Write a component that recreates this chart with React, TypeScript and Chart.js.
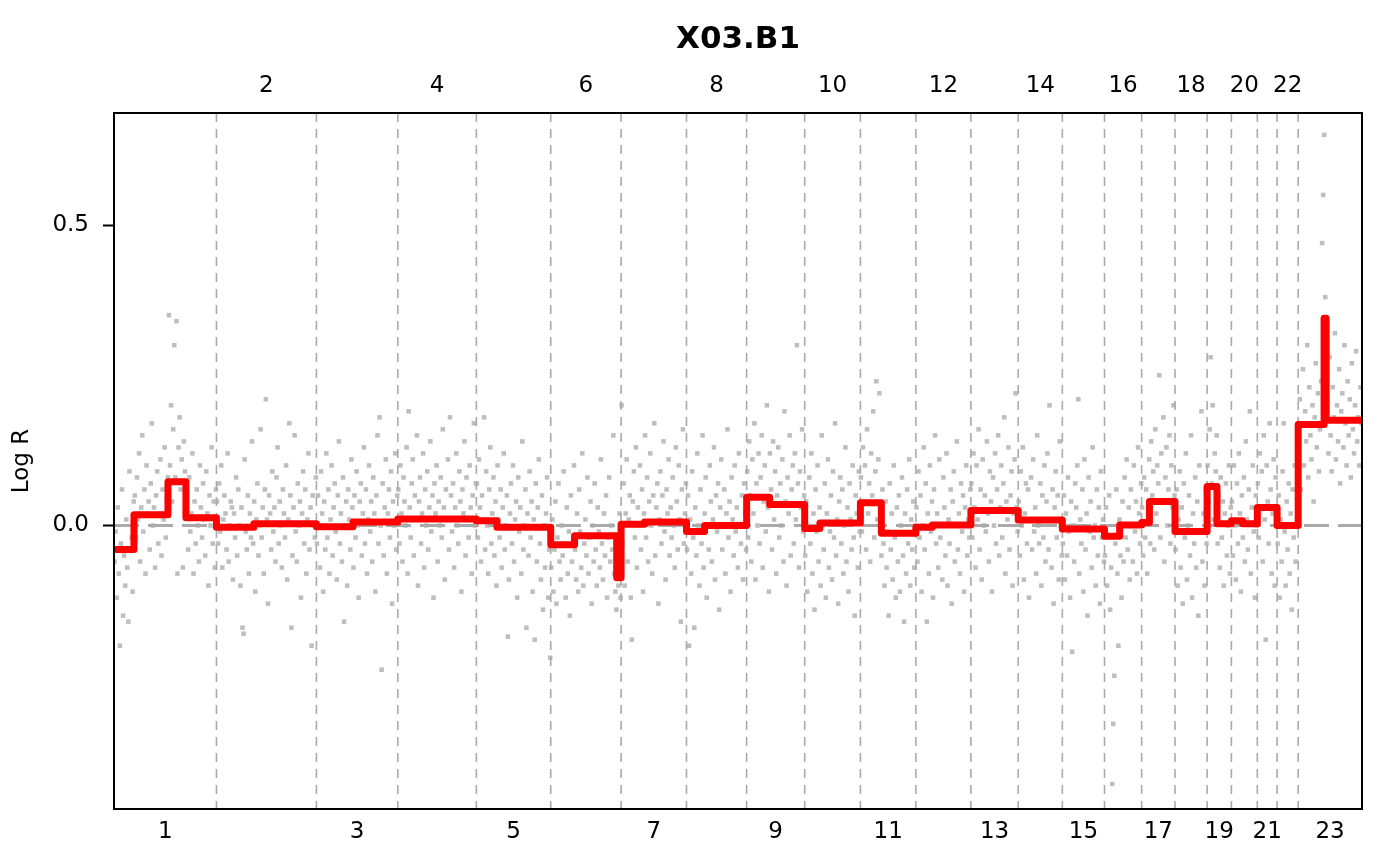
import { useEffect, useRef } from "react"
import { Chart, registerables } from "chart.js"

Chart.register(...registerables)

const FONT = '"DejaVu Sans", sans-serif'

// chromosome lengths (hg19, Mb), 23 = X
const chromLabels = ["1", "2", "3", "4", "5", "6", "7", "8", "9", "10", "11", "12", "13", "14", "15", "16", "17", "18", "19", "20", "21", "22", "23"]
const chromLengths = [249.25, 243.2, 198.02, 191.15, 180.92, 171.12, 159.14, 146.36, 141.21, 135.53, 135.01, 133.85, 115.17, 107.35, 102.53, 90.35, 81.2, 78.08, 59.13, 63.03, 48.13, 51.3, 155.27]

const yTicks = [0, 0.5]
const yMin = -0.4717
const yMax = 0.6864

// segmentation (positions in Mb within the chromosome)
const segChrom = [1, 1, 1, 1, 2, 2, 3, 3, 4, 5, 5, 6, 6, 6, 7, 7, 8, 8, 9, 9, 10, 10, 11, 11, 12, 12, 13, 14, 15, 16, 16, 17, 17, 18, 19, 19, 20, 20, 21, 22, 23, 23, 23]
const segStart = [0, 48.6, 131.3, 175, 0, 91, 0, 89, 0, 0, 50, 0, 58, 160.5, 0, 57, 0, 44, 0, 56, 0, 37, 0, 51, 0, 40, 0, 0, 0, 0, 37, 0, 19, 0, 0, 24, 0, 27, 0, 0, 0, 63, 68]
const segEnd = [48.6, 131.3, 175, 249.25, 91, 243.2, 89, 198.02, 191.15, 50, 180.92, 58, 160.5, 171.12, 57, 159.14, 44, 146.36, 56, 141.21, 37, 135.53, 51, 135.01, 40, 133.85, 115.17, 107.35, 102.53, 37, 90.35, 19, 81.2, 78.08, 24, 59.13, 27, 63.03, 48.13, 51.3, 63, 68, 155.27]
const segMean = [-0.04, 0.018, 0.073, 0.013, -0.003, 0.003, -0.002, 0.006, 0.011, 0.008, -0.003, -0.032, -0.017, -0.087, 0.002, 0.006, -0.01, 0.0, 0.047, 0.035, -0.005, 0.004, 0.038, -0.013, -0.003, 0.001, 0.025, 0.009, -0.006, -0.018, 0.001, 0.005, 0.04, -0.01, 0.065, 0.003, 0.008, 0.003, 0.03, 0.0, 0.168, 0.345, 0.175]

// probe log R values, in order along each chromosome
const logR1 = [-0.06, -0.01, -0.12, 0.03, -0.08, -0.2, -0.03, 0.06, -0.15, -0.05, -0.1, 0.01, -0.07, -0.16, 0.09, -0.04, -0.02, -0.11, 0.04,
  0.05, -0.02, 0.08, 0.01, 0.12, -0.06, 0.03, 0.15, -0.01, 0.06, -0.08, 0.1, 0.02, 0.04, -0.04, 0.07, 0.17, 0.0, 0.03, -0.07, 0.05, 0.09, -0.03, 0.02, 0.11, -0.05, 0.06, 0.01, 0.13, -0.02, 0.04, 0.08,
  0.35, 0.1, 0.2, 0.04, 0.16, 0.3, 0.08, 0.34, -0.08, 0.13, 0.18, 0.06, 0.11, -0.07, 0.14, 0.09, 0.05,
  0.05, -0.04, 0.08, -0.01, 0.02, 0.12, -0.08, 0.04, -0.03, 0.06, 0.0, -0.06, 0.1, 0.03, -0.02, 0.07, 0.01, -0.05, 0.09, 0.02, -0.1, 0.05, 0.0, 0.13, -0.03, 0.04, -0.07, 0.06]
const logR2 = [0.04, -0.03, 0.07, -0.01, 0.1, -0.07, 0.01, 0.05, 0.02, -0.04, 0.12, -0.06, 0.0, 0.04, 0.03, -0.09, 0.02, -0.02, 0.08, -0.05, 0.06, 0.0, -0.1, 0.03, -0.17, -0.18, 0.11, -0.01, -0.04, 0.05,
  -0.08, 0.02, -0.02, 0.14, -0.03, 0.04, -0.11, 0.01, 0.07, -0.05, 0.0, 0.16, -0.02, 0.03, -0.08, 0.06, 0.21, 0.01, -0.13, 0.05, 0.02, -0.04, 0.09, -0.01, 0.03, -0.06, 0.08, 0.13, -0.03, 0.04,
  0.0, -0.07, 0.06, 0.02, -0.02, 0.1, -0.09, 0.01, 0.17, 0.05, -0.17, -0.05, 0.03, 0.15, -0.01, -0.06, 0.07, 0.0, 0.04, -0.12, 0.02, 0.09, -0.03, 0.06, -0.08, 0.01, 0.12, -0.04, 0.03, -0.2, 0.05, 0.0, -0.02, 0.08]
const logR3 = [-0.03, 0.05, 0.0, -0.07, 0.09, 0.02, -0.11, 0.04, -0.04, 0.12, -0.02, 0.06, -0.08, 0.01, 0.1, -0.05, 0.03, 0.07, -0.01, -0.09, 0.05, 0.14, -0.03, 0.02, -0.06, 0.08, -0.16, 0.0, 0.04, -0.1,
  0.06, 0.01, -0.04, 0.11, 0.03, -0.07, 0.05, -0.02, 0.09, 0.0, -0.12, 0.04, 0.07, -0.05, 0.02, 0.13, -0.03, 0.06, -0.08, 0.01, 0.1, -0.01, 0.04, -0.06, 0.08, 0.02, -0.11, 0.05, 0.15, -0.03,
  0.18, 0.0, -0.24, 0.07, -0.05, 0.03, 0.11, -0.08, 0.02, 0.06, -0.02, 0.09, -0.13, 0.04, 0.0, 0.12, -0.04, 0.05]
const logR4 = [0.06, -0.03, 0.1, 0.02, -0.06, 0.08, 0.04, 0.0, 0.13, -0.08, 0.19, 0.03, -0.02, 0.07, 0.11, -0.05, 0.05, 0.01, 0.15, -0.1, 0.04, 0.08, -0.03, 0.02, 0.12, -0.07, 0.06, 0.0, 0.09, -0.04,
  0.03, 0.14, -0.01, 0.05, -0.12, 0.07, 0.02, 0.1, -0.06, 0.04, 0.0, 0.08, -0.02, 0.16, 0.03, -0.09, 0.06, 0.01, 0.11, -0.04, 0.18, 0.05, -0.01, 0.07, -0.07, 0.03, 0.12, 0.0, -0.03, 0.09,
  0.04, -0.11, 0.06, 0.02, 0.14, -0.05, 0.08, 0.01, -0.02, 0.1, 0.03, -0.08, 0.05, 0.17, 0.0, 0.07]
const logR5 = [0.07, -0.02, 0.11, 0.03, -0.06, 0.05, 0.01, 0.18, -0.04, 0.09, 0.0, -0.08, 0.06, 0.13, -0.03, 0.02, 0.08, -0.05, 0.04, -0.1, 0.1, 0.01, -0.02, 0.06, -0.07, 0.03, 0.12, -0.04, 0.0, 0.05,
  -0.185, -0.09, 0.02, 0.07, -0.03, 0.1, -0.06, 0.01, 0.04, -0.12, 0.08, -0.01, 0.03, -0.08, 0.14, -0.04, 0.0, 0.06, -0.17, 0.02, -0.05, 0.09, -0.02, 0.04, -0.11, 0.01, -0.19, 0.07, -0.06, 0.03,
  0.11, -0.03, -0.09, 0.05, -0.14, 0.0, -0.07, 0.02, 0.08, -0.12, -0.04, -0.22]
const logR6 = [-0.07, 0.01, -0.11, -0.04, 0.04, -0.13, -0.02, 0.07, -0.06, -0.09, 0.0, -0.05, 0.09, -0.03, -0.12, 0.03, -0.08, -0.01, -0.15, 0.05, -0.06, -0.02, 0.1, -0.04, -0.09, 0.02, -0.11, 0.06, -0.01, -0.07,
  0.12, -0.1, -0.03, 0.01, -0.05, 0.08, -0.08, -0.02, 0.04, -0.13, 0.0, -0.06, 0.07, -0.04, -0.1, 0.03, -0.01, -0.07, 0.11, -0.03, -0.09, 0.02, -0.05, 0.05, -0.12, -0.02, 0.08, -0.06, 0.0, -0.04,
  0.15, -0.08, -0.11, -0.14, -0.06, -0.1, 0.02, -0.12]
const logR7 = [0.2, -0.03, 0.07, -0.1, 0.02, 0.11, -0.06, 0.01, 0.05, -0.12, -0.19, 0.04, 0.09, -0.02, 0.13, -0.07, 0.03, 0.0, 0.1, -0.04, 0.06, -0.11, 0.02, 0.15, -0.02, 0.08, -0.06, 0.04, 0.12, 0.0,
  -0.08, 0.05, 0.17, -0.05, 0.03, 0.07, -0.13, 0.01, 0.09, -0.03, 0.05, 0.14, -0.01, -0.09, 0.06, 0.02, 0.11, -0.05, 0.03, -0.02, 0.08, 0.0, -0.07, 0.13, 0.04, -0.04, 0.1, 0.01, -0.16, 0.06,
  0.16, -0.03, 0.02, 0.07]
const logR8 = [-0.04, 0.05, -0.2, 0.01, -0.08, 0.09, -0.02, -0.17, 0.03, -0.05, 0.12, 0.0, -0.1, 0.06, -0.03, 0.15, -0.07, 0.02, 0.08, -0.12, 0.0, -0.04, 0.1, 0.04, -0.06, 0.01, 0.13, -0.09, 0.05, -0.01,
  0.07, -0.14, 0.03, 0.11, -0.04, 0.0, 0.06, -0.08, 0.02, 0.16, -0.02, 0.04, -0.11, 0.08, 0.01, -0.05, 0.1, -0.01, 0.03, -0.07, 0.12, 0.0, -0.03, 0.05, -0.09, 0.07, 0.02, -0.04]
const logR9 = [0.09, -0.02, 0.14, 0.05, -0.06, 0.11, 0.02, 0.17, -0.09, 0.07, 0.0, 0.12, -0.03, 0.08, 0.15, -0.07, 0.04, 0.1, -0.01, 0.2, 0.03, -0.11, 0.12, 0.06, -0.04, 0.14, 0.01, 0.09, -0.08, 0.05,
  0.13, -0.02, 0.07, 0.0, 0.11, -0.06, 0.19, 0.04, -0.1, 0.08, 0.02, 0.15, -0.05, 0.06, 0.1, -0.03, 0.12, 0.01, 0.3, 0.07, -0.07, 0.09, 0.03, 0.16, -0.01, 0.05]
const logR10 = [-0.05, 0.04, -0.11, 0.0, 0.08, -0.03, 0.12, -0.08, 0.02, -0.14, 0.06, -0.01, 0.1, -0.06, 0.03, -0.1, 0.15, 0.0, -0.04, 0.07, -0.12, 0.02, 0.11, -0.07, -0.01, 0.05, -0.09, 0.09, -0.02, 0.17,
  -0.05, 0.01, -0.13, 0.04, 0.08, -0.03, 0.06, -0.08, 0.0, 0.13, -0.06, 0.03, -0.11, 0.07, 0.01, -0.04, 0.1, -0.02, -0.15, 0.05, 0.02, -0.07, 0.09, -0.01]
const logR11 = [0.08, -0.01, 0.13, 0.04, 0.1, -0.04, 0.16, 0.02, 0.07, -0.06, 0.12, 0.05, 0.19, -0.02, 0.09, 0.24, 0.01, 0.11, 0.22, 0.03, -0.05, 0.06, -0.03, -0.1, 0.04, -0.07, -0.01, -0.15, 0.07, -0.04,
  0.02, -0.09, 0.1, -0.02, -0.12, 0.03, -0.06, 0.05, -0.11, 0.0, 0.08, -0.05, -0.16, 0.02, -0.08, 0.06, -0.03, 0.11, -0.1, 0.01, -0.04, 0.04, -0.07, 0.0]
const logR12 = [0.03, -0.06, 0.09, -0.02, 0.05, -0.11, 0.0, 0.13, -0.04, 0.07, -0.16, 0.02, -0.08, 0.1, -0.01, 0.04, -0.12, 0.06, 0.15, -0.03, 0.02, -0.07, 0.11, -0.02, 0.0, -0.09, 0.08, 0.03, -0.05, 0.12,
  -0.1, 0.01, -0.03, 0.06, -0.13, 0.04, 0.09, -0.06, 0.0, 0.14, -0.04, 0.02, -0.08, 0.07, -0.01, 0.05, -0.11, 0.03, 0.1, -0.05, 0.01, -0.02, 0.06]
const logR13 = [0.07, -0.02, 0.12, 0.03, -0.07, 0.1, 0.01, 0.16, -0.04, 0.06, -0.09, 0.11, 0.0, 0.05, -0.01, 0.14, 0.02, -0.06, 0.09, 0.04, -0.11, 0.08, 0.0, 0.12, -0.03, 0.06, 0.15, -0.05, 0.03, 0.1,
  -0.02, 0.07, 0.18, -0.08, 0.04, 0.01, 0.13, -0.04, 0.05, 0.09, -0.1, 0.02, 0.11, 0.22, 0.03, -0.01]
const logR14 = [0.04, -0.05, 0.09, 0.0, 0.13, -0.09, 0.02, 0.07, -0.03, 0.06, -0.12, 0.01, 0.08, -0.04, 0.11, -0.01, 0.03, -0.08, 0.15, 0.0, -0.03, 0.07, -0.1, 0.05, -0.02, 0.1, -0.06, 0.04, 0.12, -0.04,
  0.2, 0.01, -0.07, 0.06, -0.13, 0.03, 0.09, -0.02, 0.05, -0.09, 0.14, 0.0, -0.05]
const logR15 = [-0.03, 0.05, -0.09, 0.02, -0.05, 0.08, -0.01, -0.12, 0.04, -0.21, 0.0, -0.06, 0.07, 0.03, 0.1, 0.21, -0.08, 0.01, -0.03, 0.06, -0.11, 0.11, -0.04, 0.02, -0.15, 0.08, -0.01, 0.04, -0.07, 0.13,
  -0.02, 0.0, -0.1, 0.06, -0.05, 0.03, -0.13, 0.09, -0.02, 0.01, -0.06]
const logR16 = [-0.05, 0.03, -0.1, -0.02, 0.05, -0.14, -0.07, -0.43, -0.33, -0.25, -0.03, 0.06, -0.08, -0.2, 0.01, -0.05, -0.12, 0.04, -0.06, 0.08, -0.02, 0.11, -0.04, 0.03, -0.09, 0.06, 0.0, -0.06, 0.1, -0.01,
  0.04, -0.08, 0.13, 0.02, -0.03, 0.07]
const logR17 = [0.03, -0.05, 0.08, -0.02, 0.06, -0.08, 0.01, 0.11, -0.03, 0.14, 0.05, 0.09, -0.04, 0.16, 0.02, 0.1, 0.07, 0.25, -0.02, 0.12, 0.04, 0.18, -0.06, 0.08, 0.13, 0.0, 0.06, 0.15, -0.03, 0.1,
  0.03, 0.2, 0.05]
const logR18 = [-0.04, 0.06, -0.1, 0.01, 0.09, -0.07, 0.03, -0.13, 0.07, -0.02, 0.12, -0.09, 0.0, 0.05, -0.05, 0.15, -0.12, 0.02, -0.03, 0.08, -0.07, 0.04, -0.15, 0.1, -0.01, 0.19, -0.06, 0.02, -0.1, 0.06,
  -0.03]
const logR19 = [0.1, 0.04, 0.16, 0.28, 0.07, 0.2, 0.01, 0.12, 0.09, 0.15, -0.03, 0.05, -0.07, 0.08, -0.02, 0.04, -0.1, 0.02, 0.07, -0.05, 0.0, 0.1, -0.08, 0.03]
const logR20 = [0.04, -0.05, 0.1, 0.0, -0.09, 0.07, -0.03, 0.12, 0.02, -0.11, 0.05, -0.02, 0.08, -0.06, 0.14, 0.01, -0.04, 0.06, 0.19, -0.08, 0.03, 0.1, -0.01, -0.12, 0.05, 0.0]
const logR21 = [0.07, -0.02, 0.12, 0.03, 0.09, -0.06, 0.15, 0.01, -0.19, 0.1, 0.04, -0.03, 0.17, 0.06, -0.08, 0.02, 0.11, -0.1, 0.08, 0.0]
const logR22 = [-0.03, 0.05, -0.12, 0.01, -0.06, 0.09, 0.17, -0.01, -0.1, 0.04, -0.04, 0.07, -0.08, 0.02, -0.14, 0.06, -0.02, 0.1, -0.06, 0.0, 0.03]
const logR23 = [0.12, 0.21, 0.06, 0.17, 0.26, 0.1, 0.19, 0.14, 0.3, 0.08, 0.23, 0.15, 0.11, 0.2, 0.04, 0.18, 0.27, 0.13, 0.22, 0.09, 0.16, 0.24, 0.47, 0.55, 0.65, 0.38, 0.33, 0.19, 0.12, 0.28,
  0.15, 0.09, 0.23, 0.18, 0.32, 0.11, 0.2, 0.14, 0.26, 0.07, 0.19, 0.22, 0.13, 0.3, 0.17, 0.1, 0.24, 0.15, 0.21, 0.08, 0.27, 0.16, 0.12, 0.2, 0.29, 0.14, 0.18, 0.1, 0.23, 0.17]

const probeValues = [logR1, logR2, logR3, logR4, logR5, logR6, logR7, logR8, logR9, logR10, logR11, logR12, logR13, logR14, logR15, logR16, logR17, logR18, logR19, logR20, logR21, logR22, logR23]

const chromStart: number[] = []
let acc = 0
for (const len of chromLengths) {
  chromStart.push(acc)
  acc += len
}
const genomeLength = acc
const chromCenter = chromLengths.map((len, i) => chromStart[i] + len / 2)

const frameAndGuides = {
  id: "frameAndGuides",
  afterDatasetDraw(chart: any, args: any) {
    if (args.index !== 1) return
    const { ctx, chartArea, scales } = chart
    ctx.save()
    ctx.beginPath()
    ctx.rect(chartArea.left, chartArea.top, chartArea.right - chartArea.left, chartArea.bottom - chartArea.top)
    ctx.clip()
    // chromosome boundaries
    ctx.strokeStyle = "#aaaaaa"
    ctx.lineWidth = 1.6
    ctx.setLineDash([9, 7])
    for (let i = 1; i < chromLengths.length; i++) {
      const px = scales.x.getPixelForValue(chromStart[i])
      ctx.beginPath()
      ctx.moveTo(px, chartArea.top)
      ctx.lineTo(px, chartArea.bottom)
      ctx.stroke()
    }
    // zero line
    const py = scales.y.getPixelForValue(0)
    ctx.lineWidth = 3
    ctx.setLineDash([25, 9])
    ctx.beginPath()
    ctx.moveTo(chartArea.left, py)
    ctx.lineTo(chartArea.right, py)
    ctx.stroke()
    ctx.restore()
  },
  afterDraw(chart: any) {
    const { ctx, chartArea } = chart
    ctx.save()
    ctx.strokeStyle = "#000000"
    ctx.lineWidth = 2
    ctx.strokeRect(chartArea.left, chartArea.top, chartArea.right - chartArea.left, chartArea.bottom - chartArea.top)
    ctx.fillStyle = "#000000"
    ctx.font = `bold 31px ${FONT}`
    ctx.textAlign = "center"
    ctx.textBaseline = "middle"
    ctx.fillText("X03.B1", (chartArea.left + chartArea.right) / 2, chartArea.top - 73)
    ctx.restore()
  },
}

export default function App() {
  const chartRef = useRef<HTMLCanvasElement>(null)
  const chartInstance = useRef<Chart | null>(null)

  useEffect(() => {
    if (!chartRef.current) return
    const ctx = chartRef.current.getContext("2d")
    if (!ctx) return

    if (chartInstance.current) {
      chartInstance.current.destroy()
    }

    const points: { x: number; y: number }[] = []
    probeValues.forEach((values, c) => {
      values.forEach((v, i) => {
        points.push({ x: chromStart[c] + ((i + 0.5) / values.length) * chromLengths[c], y: v })
      })
    })

    const segLine: { x: number; y: number }[] = []
    segMean.forEach((m, i) => {
      const base = chromStart[segChrom[i] - 1]
      segLine.push({ x: base + segStart[i], y: m })
      segLine.push({ x: base + segEnd[i], y: m })
    })

    const oddIdx = chromLabels.map((_, i) => i).filter((i) => i % 2 === 0)
    const evenIdx = chromLabels.map((_, i) => i).filter((i) => i % 2 === 1)

    const tickFont = { family: FONT, size: 23 }

    chartInstance.current = new Chart(ctx, {
      type: "scatter",
      data: {
        datasets: [
          {
            label: "Segments",
            data: segLine,
            showLine: true,
            borderColor: "#ff0000",
            borderWidth: 7,
            borderCapStyle: "round",
            borderJoinStyle: "round",
            pointRadius: 0,
            fill: false,
            order: 0,
          },
          {
            label: "Probes",
            data: points,
            pointStyle: "rect",
            pointRadius: 3.2,
            pointBackgroundColor: "#bebebe",
            pointBorderColor: "#bebebe",
            pointBorderWidth: 0,
            order: 1,
          },
        ],
      },
      options: {
        animation: false,
        responsive: true,
        maintainAspectRatio: false,
        events: [],
        layout: { padding: { left: 0, right: 38, top: 0, bottom: 0 } },
        plugins: {
          legend: { display: false },
          tooltip: { enabled: false },
        },
        scales: {
          x: {
            type: "linear",
            position: "bottom",
            min: 0,
            max: genomeLength,
            grid: { display: false, drawTicks: false },
            border: { display: false },
            afterBuildTicks: (scale: any) => {
              scale.ticks = oddIdx.map((i) => ({ value: chromCenter[i] }))
            },
            afterFit: (scale: any) => {
              scale.height = 57
            },
            ticks: {
              autoSkip: false,
              maxRotation: 0,
              padding: 9,
              color: "#000000",
              font: tickFont,
              callback: (_v: any, index: number) => chromLabels[oddIdx[index]],
            },
          },
          x2: {
            type: "linear",
            position: "top",
            min: 0,
            max: genomeLength,
            grid: { display: false, drawTicks: false },
            border: { display: false },
            afterBuildTicks: (scale: any) => {
              scale.ticks = evenIdx.map((i) => ({ value: chromCenter[i] }))
            },
            afterFit: (scale: any) => {
              scale.height = 113
            },
            ticks: {
              autoSkip: false,
              maxRotation: 0,
              padding: 13,
              color: "#000000",
              font: tickFont,
              callback: (_v: any, index: number) => chromLabels[evenIdx[index]],
            },
          },
          y: {
            type: "linear",
            min: yMin,
            max: yMax,
            afterBuildTicks: (scale: any) => {
              scale.ticks = yTicks.map((v) => ({ value: v }))
            },
            afterFit: (scale: any) => {
              scale.width = 114
            },
            grid: {
              drawOnChartArea: false,
              drawTicks: true,
              tickLength: 11,
              tickColor: "#000000",
              tickWidth: 2,
            },
            border: { display: false },
            ticks: {
              padding: 14,
              color: "#000000",
              font: tickFont,
              callback: (v: any) => Number(v).toFixed(1),
            },
            title: {
              display: true,
              text: "Log R",
              color: "#000000",
              font: tickFont,
              padding: { top: 8, bottom: 0 },
            },
          },
        },
      },
      plugins: [frameAndGuides],
    })

    return () => {
      if (chartInstance.current) {
        chartInstance.current.destroy()
        chartInstance.current = null
      }
    }
  }, [])

  return (
    <div style={{ position: "fixed", left: 0, top: 0, width: 1400, height: 866, background: "#ffffff" }}>
      <canvas ref={chartRef} />
    </div>
  )
}
